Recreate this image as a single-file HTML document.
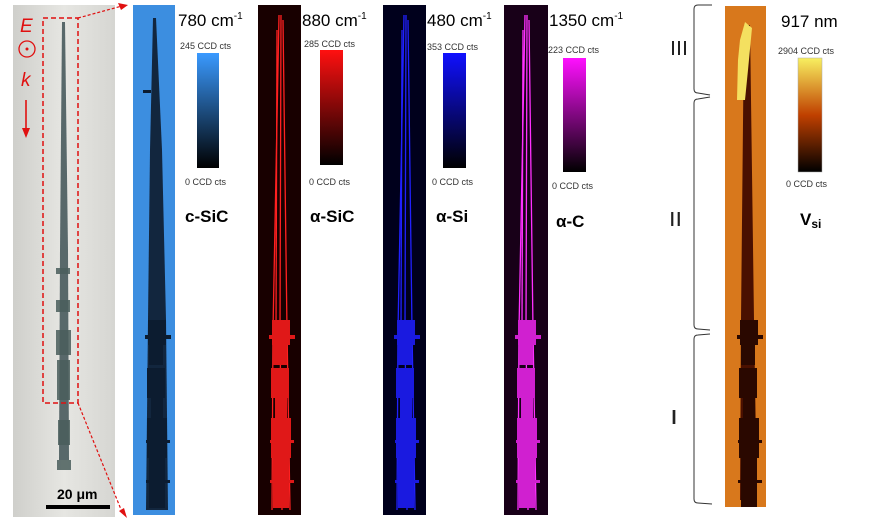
<!DOCTYPE html>
<html><head><meta charset="utf-8"><style>
body{margin:0;background:#fff;width:873px;height:531px;overflow:hidden}
svg{display:block}
text{font-family:"Liberation Sans",sans-serif}
</style></head><body>
<svg width="873" height="531" viewBox="0 0 873 531" xmlns="http://www.w3.org/2000/svg">
<defs>
<linearGradient id="gb" x1="0" y1="1" x2="0" y2="0"><stop offset="0" stop-color="#000"/><stop offset="1" stop-color="#3a9aff"/></linearGradient>
<linearGradient id="gr" x1="0" y1="1" x2="0" y2="0"><stop offset="0" stop-color="#000"/><stop offset="1" stop-color="#ff1010"/></linearGradient>
<linearGradient id="gb2" x1="0" y1="1" x2="0" y2="0"><stop offset="0" stop-color="#000"/><stop offset="1" stop-color="#1010ff"/></linearGradient>
<linearGradient id="gm" x1="0" y1="1" x2="0" y2="0"><stop offset="0" stop-color="#000"/><stop offset="1" stop-color="#ff10ff"/></linearGradient>
<linearGradient id="go" x1="0" y1="1" x2="0" y2="0"><stop offset="0" stop-color="#000"/><stop offset="0.5" stop-color="#c04000"/><stop offset="1" stop-color="#f8f060"/></linearGradient>
<linearGradient id="gl" x1="0" y1="0" x2="1" y2="0"><stop offset="0" stop-color="#cfcfcb"/><stop offset="0.5" stop-color="#e6e6e2"/><stop offset="1" stop-color="#d6d6d2"/></linearGradient>
<clipPath id="co"><rect x="725" y="6" width="41" height="501"/></clipPath>
<g id="blobs">
<rect x="-9" y="320" width="18" height="25"/><rect x="-12" y="335" width="26" height="4"/>
<rect x="-8" y="345" width="14" height="20"/><rect x="-10" y="368" width="18" height="30"/>
<rect x="-6" y="398" width="12" height="20"/><rect x="-10" y="418" width="20" height="40"/>
<rect x="-8" y="458" width="16" height="50"/><rect x="-11" y="440" width="24" height="3"/><rect x="-11" y="480" width="24" height="3"/>
</g>
</defs>
<!-- left optical panel -->
<rect x="13" y="5" width="102" height="512" fill="url(#gl)"/>
<path d="M62 22 L65 22 L68 250 L69 460 L59 460 L60 250 Z" fill="#58686a"/>
<g fill="#4a5e5c" opacity="0.85">
<rect x="56" y="268" width="14" height="6"/><rect x="56" y="300" width="14" height="12"/>
<rect x="56" y="330" width="15" height="25"/><rect x="57" y="360" width="13" height="40"/>
<rect x="58" y="420" width="12" height="25"/><rect x="57" y="460" width="14" height="10"/></g>
<rect x="43" y="18" width="35" height="385" fill="none" stroke="#e01010" stroke-width="1.5" stroke-dasharray="5,3"/>
<line x1="78" y1="18" x2="122" y2="6" stroke="#e01010" stroke-width="1.2" stroke-dasharray="3,2"/>
<polygon points="128,5 118,3 121,10" fill="#e01010"/>
<line x1="78" y1="403" x2="122" y2="512" stroke="#e01010" stroke-width="1.2" stroke-dasharray="3,2"/>
<polygon points="127,518 119,511 124,508" fill="#e01010"/>
<text x="20" y="32" font-size="19" font-style="italic" fill="#e01010">E</text>
<circle cx="27" cy="49" r="8" fill="none" stroke="#e01010" stroke-width="1.3"/><circle cx="27" cy="49" r="1.5" fill="#e01010"/>
<text x="21" y="86" font-size="19" font-style="italic" fill="#e01010">k</text>
<line x1="26" y1="100" x2="26" y2="130" stroke="#e01010" stroke-width="1.6"/><polygon points="22,128 30,128 26,138" fill="#e01010"/>
<rect x="46" y="505" width="64" height="4" fill="#000"/>
<text x="57" y="499" font-size="14" font-weight="bold" fill="#000">20 μm</text>

<!-- blue map -->
<rect x="133" y="5" width="42" height="510" fill="#3c8ee0"/>
<path d="M153 18 L156 18 L162 150 L166 320 L168 510 L146 510 L148 320 L150 150 Z" fill="#12263e"/>
<g fill="#0c1c30" transform="translate(157,0)"><use href="#blobs"/></g>
<rect x="143" y="90" width="8" height="3" fill="#0c1c30"/>
<rect x="197" y="53" width="22" height="115" fill="url(#gb)"/>
<text x="178" y="26" font-size="17">780 cm<tspan font-size="10" dy="-7">-1</tspan></text>
<text x="180" y="49" font-size="9" fill="#333">245 CCD cts</text>
<text x="185" y="185" font-size="9" fill="#333">0 CCD cts</text>
<text x="185" y="222" font-size="17" font-weight="bold">c-SiC</text>

<!-- red map -->
<rect x="258" y="5" width="43" height="510" fill="#180000"/>
<g stroke="#ff2020" stroke-width="1.3" fill="none"><path d="M279 15 L273 330 L272 510"/><path d="M281 15 L280 330 L282 510"/><path d="M283 20 L287 330 L290 510"/><path d="M277 30 L276 330"/></g>
<g fill="#e01818" transform="translate(281,0)"><use href="#blobs"/></g>
<rect x="320" y="50" width="23" height="115" fill="url(#gr)"/>
<text x="302" y="26" font-size="17">880 cm<tspan font-size="10" dy="-7">-1</tspan></text>
<text x="304" y="47" font-size="9" fill="#333">285 CCD cts</text>
<text x="309" y="185" font-size="9" fill="#333">0 CCD cts</text>
<text x="310" y="222" font-size="17" font-weight="bold">α-SiC</text>

<!-- blue2 map -->
<rect x="383" y="5" width="43" height="510" fill="#00001c"/>
<g stroke="#2020ff" stroke-width="1.3" fill="none"><path d="M404 15 L398 330 L397 510"/><path d="M406 15 L405 330 L407 510"/><path d="M408 20 L412 330 L415 510"/><path d="M402 30 L401 330"/></g>
<g fill="#1a1ae0" transform="translate(406,0)"><use href="#blobs"/></g>
<rect x="443" y="53" width="23" height="115" fill="url(#gb2)"/>
<text x="427" y="26" font-size="17">480 cm<tspan font-size="10" dy="-7">-1</tspan></text>
<text x="427" y="50" font-size="9" fill="#333">353 CCD cts</text>
<text x="432" y="185" font-size="9" fill="#333">0 CCD cts</text>
<text x="436" y="222" font-size="17" font-weight="bold">α-Si</text>

<!-- magenta map -->
<rect x="504" y="5" width="44" height="510" fill="#180018"/>
<g stroke="#ff30ff" stroke-width="1.3" fill="none"><path d="M525 15 L519 330 L518 510"/><path d="M527 15 L526 330 L528 510"/><path d="M529 20 L533 330 L536 510"/><path d="M523 30 L522 330"/></g>
<g fill="#d020d0" transform="translate(527,0)"><use href="#blobs"/></g>
<rect x="563" y="58" width="23" height="114" fill="url(#gm)"/>
<text x="549" y="26" font-size="17">1350 cm<tspan font-size="10" dy="-7">-1</tspan></text>
<text x="548" y="53" font-size="9" fill="#333">223 CCD cts</text>
<text x="552" y="189" font-size="9" fill="#333">0 CCD cts</text>
<text x="556" y="227" font-size="17" font-weight="bold">α-C</text>

<!-- braces -->
<g fill="none" stroke="#333" stroke-width="1">
<path d="M712 5 L698 5 Q694 5 694 9 L694 89 Q694 93 698 93 L710 95"/>
<path d="M710 97 L698 99 Q694 99 694 103 L694 325 Q694 329 698 329 L710 330"/>
<path d="M710 334 L698 335 Q694 335 694 339 L694 499 Q694 503 698 503 L712 504"/>
</g>
<g font-family="Liberation Serif" font-size="20" fill="#222">
<text x="670" y="55" textLength="18" lengthAdjust="spacingAndGlyphs">III</text>
<text x="669" y="226" textLength="13" lengthAdjust="spacingAndGlyphs">II</text>
<text x="670" y="424" textLength="8" lengthAdjust="spacingAndGlyphs">I</text>
</g>

<!-- orange map -->
<rect x="725" y="6" width="41" height="501" fill="#d8781c"/>
<g clip-path="url(#co)">
<path d="M744 25 L750 25 L754 320 L757 500 L740 500 L741 320 Z" fill="#4a1000"/>
<g fill="#2a0800" transform="translate(749,0)"><use href="#blobs"/></g>
</g>
<path d="M740 40 L745 22 L752 28 L748 70 L745 100 L737 100 L738 60 Z" fill="#f4e060"/>
<rect x="798" y="58" width="24" height="114" fill="url(#go)" stroke="#aaa" stroke-width="0.5"/>
<text x="781" y="27" font-size="17">917 nm</text>
<text x="778" y="54" font-size="9" fill="#333">2904 CCD cts</text>
<text x="786" y="187" font-size="9" fill="#333">0 CCD cts</text>
<text x="800" y="225" font-size="17" font-weight="bold">V<tspan font-size="12" dy="3">si</tspan></text>
</svg>
</body></html>
